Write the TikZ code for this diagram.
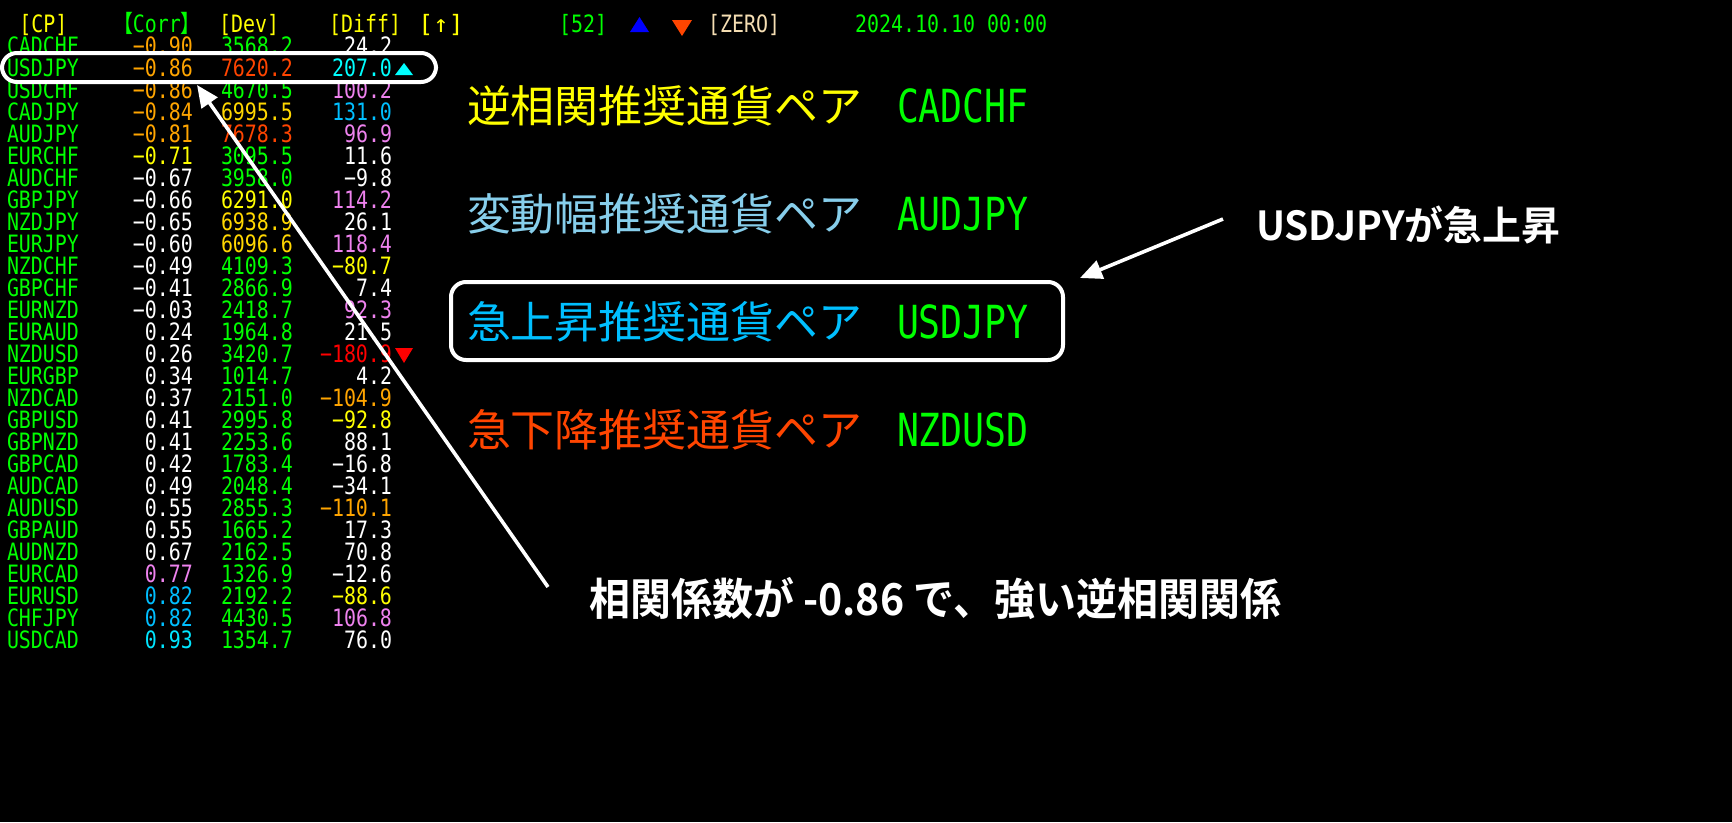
\documentclass[tikz,border=0pt]{standalone}
\usepackage{fontspec}
\usepackage{graphicx}
\usetikzlibrary{arrows.meta}
\newfontfamily\cjk{Noto Sans CJK JP}
\newfontfamily\cjkb{Noto Sans CJK JP}[UprightFont=* Bold]
\newfontfamily\mono{DejaVu Sans Mono}
\definecolor{cgreen}{RGB}{0,255,0}
\definecolor{cyel}{RGB}{255,255,0}
\definecolor{cgold}{RGB}{255,215,0}
\definecolor{corange}{RGB}{255,165,0}
\definecolor{cored}{RGB}{255,69,0}
\definecolor{cviolet}{RGB}{238,130,238}
\definecolor{cdsb}{RGB}{0,191,255}
\definecolor{ccyan}{RGB}{0,255,255}
\definecolor{ccyanb}{RGB}{0,230,255}
\definecolor{csky}{RGB}{135,206,235}
\definecolor{cwheat}{RGB}{245,222,179}
\definecolor{cred}{RGB}{255,0,0}
\definecolor{cblue}{RGB}{0,0,255}
\newcommand{\tcell}[1]{\scalebox{0.834}[1]{\mono\fontsize{23.9pt}{24pt}\selectfont #1}}
\newcommand{\bigmono}[1]{\scalebox{0.80}[1]{\mono\fontsize{45.6pt}{46pt}\selectfont #1}}
\tikzset{
  tb/.style={inner sep=0pt, outer sep=0pt},
  tl/.style={tb, anchor=base west},
  tr/.style={tb, anchor=base east},
  jp/.style={tb, anchor=base west, font=\cjk\fontsize{43.9pt}{44pt}\selectfont},
  hlbox/.style={draw=white, line width=4pt, rounded corners=15pt, inner sep=0pt},
  arr/.style={draw=white, line width=3.6pt, -{Triangle[length=22pt,width=19pt]}}
}
\begin{document}
\begin{tikzpicture}[x=1pt,y=-1pt]
\useasboundingbox (0,0) rectangle (1732,822);
\fill[black] (0,0) rectangle (1732,822);
% header
\node[tl, text=cyel] (hcp) at (19.5,32.6) {\tcell{[CP]}};
\node[tl, text=cgreen] (hcorr) at (113,32.6) {\scalebox{0.834}[1]{\fontsize{23.9pt}{24pt}\selectfont{\cjk 【}{\mono Corr}{\cjk 】}}};
\node[tl, text=cyel] (hdev) at (219,32.6) {\tcell{[Dev]}};
\node[tl, text=cyel] (hdiff) at (329,32.6) {\tcell{[Diff]}};
\node[tl, text=cyel] (hup) at (418,32.6) {\resizebox{46pt}{\height}{\mono\fontsize{23.9pt}{24pt}\selectfont [↑]}};
\node[tl, text=cgreen] (h52) at (559,32.6) {\tcell{[52]}};
\fill[cblue] (630,32) -- (649,32) -- (639.5,17) -- cycle;
\fill[cored] (672,20) -- (692,20) -- (682,36) -- cycle;
\node[tl, text=cwheat] (hzero) at (708,32.6) {\tcell{[ZERO]}};
\node[tl, text=cgreen] (hdate) at (855,32.6) {\tcell{2024.10.10 00:00}};
% table
\foreach \nm/\cv/\cc/\dv/\dc/\fv/\fc [count=\i from 0] in {
CADCHF/−0.90/corange/3568.2/cgreen/24.2/white,
USDJPY/−0.86/corange/7620.2/cored/207.0/ccyan,
USDCHF/−0.86/corange/4670.5/cgreen/100.2/cviolet,
CADJPY/−0.84/corange/6995.5/cgold/131.0/cdsb,
AUDJPY/−0.81/corange/7678.3/cored/96.9/cviolet,
EURCHF/−0.71/cyel/3095.5/cgreen/11.6/white,
AUDCHF/−0.67/white/3958.0/cgreen/−9.8/white,
GBPJPY/−0.66/white/6291.0/cyel/114.2/cviolet,
NZDJPY/−0.65/white/6938.9/cgold/26.1/white,
EURJPY/−0.60/white/6096.6/cgold/118.4/cviolet,
NZDCHF/−0.49/white/4109.3/cgreen/−80.7/cyel,
GBPCHF/−0.41/white/2866.9/cgreen/7.4/white,
EURNZD/−0.03/white/2418.7/cgreen/92.3/cviolet,
EURAUD/0.24/white/1964.8/cgreen/21.5/white,
NZDUSD/0.26/white/3420.7/cgreen/−180.9/cred,
EURGBP/0.34/white/1014.7/cgreen/4.2/white,
NZDCAD/0.37/white/2151.0/cgreen/−104.9/corange,
GBPUSD/0.41/white/2995.8/cgreen/−92.8/cyel,
GBPNZD/0.41/white/2253.6/cgreen/88.1/white,
GBPCAD/0.42/white/1783.4/cgreen/−16.8/white,
AUDCAD/0.49/white/2048.4/cgreen/−34.1/white,
AUDUSD/0.55/white/2855.3/cgreen/−110.1/corange,
GBPAUD/0.55/white/1665.2/cgreen/17.3/white,
AUDNZD/0.67/white/2162.5/cgreen/70.8/white,
EURCAD/0.77/cviolet/1326.9/cgreen/−12.6/white,
EURUSD/0.82/cdsb/2192.2/cgreen/−88.6/cyel,
CHFJPY/0.82/cdsb/4430.5/cgreen/106.8/cviolet,
USDCAD/0.93/ccyanb/1354.7/cgreen/76.0/white}{
  \node[tl, text=cgreen] (nm\i) at (7,{54.7+22*\i}) {\tcell{\nm}};
  \node[tr, text=\cc] (cr\i) at (193,{54.7+22*\i}) {\tcell{\cv}};
  \node[tr, text=\dc] (dv\i) at (293,{54.7+22*\i}) {\tcell{\dv}};
  \node[tr, text=\fc] (df\i) at (392,{54.7+22*\i}) {\tcell{\fv}};
}
\fill[ccyan] (395,75) -- (413,75) -- (404,63) -- cycle;
\fill[cred] (395,348) -- (413,348) -- (404,363) -- cycle;
\node[hlbox, minimum width=434pt, minimum height=29pt] (rowbox) at (219,67.5) {};
% recommendation panel
\node[jp, text=cyel] (l1) at (467,122.5) {逆相関推奨通貨ペア};
\node[tl, text=cgreen] (p1) at (897,122.5) {\bigmono{CADCHF}};
\node[jp, text=csky] (l2) at (467,230.5) {変動幅推奨通貨ペア};
\node[tl, text=cgreen] (p2) at (897,230.5) {\bigmono{AUDJPY}};
\node[jp, text=cdsb] (l3) at (467,338.5) {急上昇推奨通貨ペア};
\node[tl, text=cgreen] (p3) at (897,338.5) {\bigmono{USDJPY}};
\node[jp, text=cored] (l4) at (467,446.5) {急下降推奨通貨ペア};
\node[tl, text=cgreen] (p4) at (897,446.5) {\bigmono{NZDUSD}};
\node[hlbox, minimum width=612pt, minimum height=78pt] (panelbox) at (757,321) {};
% annotations
\node[tl, text=white] (upnote) at (1256,240) {\resizebox{304pt}{\height}{\cjkb\fontsize{40pt}{40pt}\selectfont USDJPYが急上昇}};
\node[tl, text=white] (corrnote) at (589,615) {\resizebox{692pt}{\height}{\cjkb\fontsize{44pt}{44pt}\selectfont 相関係数が -0.86 で、強い逆相関関係}};
\coordinate (a1s) at (548,587);
\coordinate (a1e) at (197,85);
\coordinate (a2s) at (1223,219);
\coordinate (a2e) at (1080,278);
\draw[arr] (a1s) -- (a1e);
\draw[arr] (a2s) -- (a2e);
\end{tikzpicture}
\end{document}
